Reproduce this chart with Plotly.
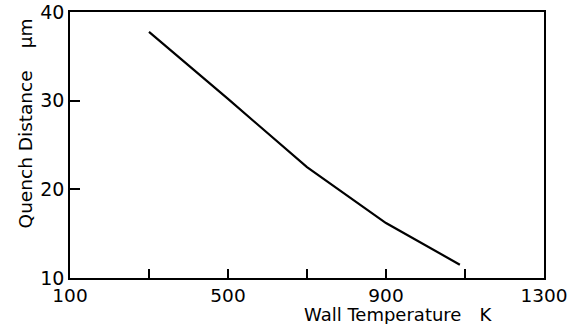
import plotly.graph_objects as go

wall_temperature_K = [300, 500, 700, 900, 1087]
quench_distance_um = [37.75, 30.2, 22.5, 16.2, 11.5]

x_tickvals = [100, 300, 500, 700, 900, 1100, 1300]
x_ticktext = ["100", "", "500", "", "900", "", "1300"]
y_tickvals = [10, 20, 30, 40]
y_ticktext = ["10", "20", "30", "40"]

FONT = "DejaVu Sans"

fig = go.Figure()
fig.add_trace(go.Scatter(
    x=wall_temperature_K, y=quench_distance_um, mode="lines",
    line=dict(color="black", width=2.2), showlegend=False,
))

fig.update_layout(
    width=578, height=324,
    margin=dict(l=70, r=34, t=12, b=46, autoexpand=False),
    paper_bgcolor="white", plot_bgcolor="white",
    font=dict(family=FONT, color="black", size=18.5),
    xaxis=dict(
        range=[100, 1300], tickvals=x_tickvals, ticktext=x_ticktext,
        ticks="inside", ticklen=9, tickwidth=1.5, tickcolor="black",
        showline=True, linecolor="black", linewidth=1.5, mirror=True,
        showgrid=False, zeroline=False, tickfont=dict(size=18.5), automargin=False,
    ),
    yaxis=dict(
        range=[10, 40], tickvals=y_tickvals, ticktext=y_ticktext,
        ticks="inside", ticklen=10, tickwidth=1.5, tickcolor="black",
        showline=True, linecolor="black", linewidth=1.5, mirror=True,
        showgrid=False, zeroline=False, tickfont=dict(size=19), automargin=False,
    ),
    annotations=[
        dict(text="Wall Temperature\u2003K", xref="paper", yref="paper",
             x=0.691, y=-0.1375, xanchor="center", yanchor="middle",
             showarrow=False, font=dict(size=18)),
        dict(text="Quench Distance\u2003\u2009\u03bcm", xref="paper", yref="paper",
             x=-0.095, y=0.581, xanchor="center", yanchor="middle",
             textangle=-90, showarrow=False, font=dict(size=18.5)),
    ],
)

fig.write_html("out.html", config={"displayModeBar": False},
               post_script="document.body.style.margin='0';")
